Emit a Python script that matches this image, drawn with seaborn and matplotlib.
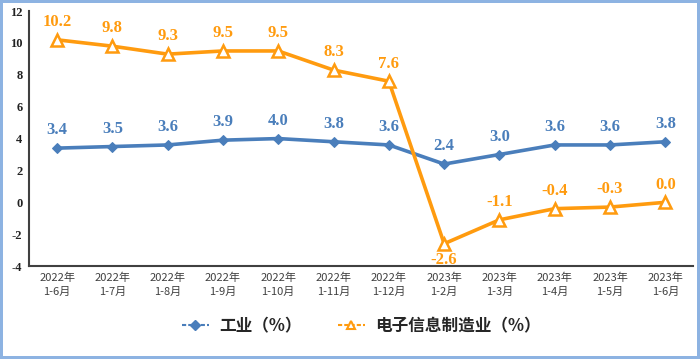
import numpy as np
import pandas as pd
import matplotlib.pyplot as plt
import seaborn as sns
from matplotlib.lines import Line2D

# 数据
periods = ['2022年\n1-6月', '2022年\n1-7月', '2022年\n1-8月', '2022年\n1-9月',
           '2022年\n1-10月', '2022年\n1-11月', '2022年\n1-12月', '2023年\n1-2月',
           '2023年\n1-3月', '2023年\n1-4月', '2023年\n1-5月', '2023年\n1-6月']
industry = [3.4, 3.5, 3.6, 3.9, 4.0, 3.8, 3.6, 2.4, 3.0, 3.6, 3.6, 3.8]
electronics = [10.2, 9.8, 9.3, 9.5, 9.5, 8.3, 7.6, -2.6, -1.1, -0.4, -0.3, 0.0]
y_ticks = [-4, -2, 0, 2, 4, 6, 8, 10, 12]

blue = '#4A7EBB'
orange = '#FF9B0F'

sns.set_theme(style='white')
plt.rcParams['font.family'] = ['Noto Sans CJK SC', 'DejaVu Sans']

df = pd.DataFrame({'pos': np.arange(len(periods)),
                   'industry': industry,
                   'electronics': electronics})

fig = plt.figure(figsize=(7, 3.59), dpi=100)
fig.patch.set_edgecolor('#8DB3E2')
fig.patch.set_linewidth(3)
ax = fig.add_axes([0.042, 0.259, 0.948, 0.71])

sns.lineplot(data=df, x='pos', y='industry', ax=ax, color=blue, linewidth=2.6,
             marker='D', markersize=5.5, markeredgecolor=blue, legend=False)
sns.lineplot(data=df, x='pos', y='electronics', ax=ax, color=orange, linewidth=2.6,
             marker='^', markersize=8, markerfacecolor='white',
             markeredgecolor=orange, markeredgewidth=1.8, legend=False)

serif_bold = dict(family='Liberation Serif', fontweight='bold', fontsize=12)
for i, v in enumerate(industry):
    ax.annotate(f'{v:.1f}', (i, v), xytext=(0, 7), textcoords='offset points',
                ha='center', va='bottom', color=blue, **serif_bold)
for i, v in enumerate(electronics):
    below = v < -2
    ax.annotate(f'{v:.1f}', (i, v), xytext=(0, -6 if below else 7),
                textcoords='offset points', ha='center',
                va='top' if below else 'bottom', color=orange, **serif_bold)

ax.set_xlim(-0.5, len(periods) - 0.5)
ax.set_ylim(-4, 12)
ax.set_yticks(y_ticks)
ax.set_yticklabels([str(t) for t in y_ticks], family='Liberation Serif',
                   fontweight='bold', fontsize=9, color='#222222')
ax.set_xticks(df['pos'])
ax.set_xticklabels(periods, fontsize=8, color='#404040', linespacing=1.4)
ax.tick_params(axis='both', length=0, pad=5)
ax.set_xlabel('')
ax.set_ylabel('')

sns.despine(ax=ax)
for s in ['left', 'bottom']:
    ax.spines[s].set_color('#404040')
    ax.spines[s].set_linewidth(1.5)

handles = [Line2D([], [], color=blue, linewidth=1.5, linestyle=(0, (2, 1)),
                  marker='D', markersize=5, markeredgecolor=blue),
           Line2D([], [], color=orange, linewidth=1.5, linestyle=(0, (2, 1)),
                  marker='^', markersize=6, markerfacecolor='white',
                  markeredgecolor=orange, markeredgewidth=1.5)]
ax.legend(handles, ['工业（%）', '电子信息制造业（%）'], loc='center',
          bbox_to_anchor=(0.5, -0.235), ncol=2, frameon=False,
          prop={'family': ['Noto Sans CJK SC', 'DejaVu Sans'], 'weight': 'bold', 'size': 12},
          handlelength=1.6, columnspacing=2.2, handletextpad=0.6)

fig.savefig('out.png', dpi=100)
